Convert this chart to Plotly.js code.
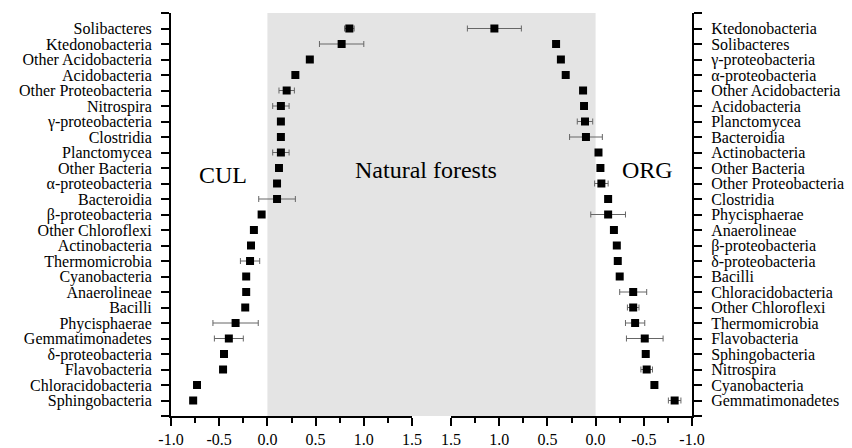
<!DOCTYPE html>
<html>
<head>
<meta charset="utf-8">
<script src="https://cdn.plot.ly/plotly-3.0.1.min.js"></script>
<style>html,body{margin:0;padding:0;background:#fff}#chart{width:852px;height:448px}</style>
</head>
<body>
<div id="chart"></div>
<script>
// CUL (left panel), top to bottom
const catsCUL = ["Solibacteres","Ktedonobacteria","Other Acidobacteria","Acidobacteria","Other Proteobacteria","Nitrospira","γ-proteobacteria","Clostridia","Planctomycea","Other Bacteria","α-proteobacteria","Bacteroidia","β-proteobacteria","Other Chloroflexi","Actinobacteria","Thermomicrobia","Cyanobacteria","Anaerolineae","Bacilli","Phycisphaerae","Gemmatimonadetes","δ-proteobacteria","Flavobacteria","Chloracidobacteria","Sphingobacteria"];
const valsCUL = [0.85,0.77,0.44,0.29,0.20,0.14,0.14,0.14,0.14,0.12,0.10,0.10,-0.06,-0.14,-0.17,-0.18,-0.22,-0.22,-0.23,-0.33,-0.40,-0.45,-0.46,-0.73,-0.77];
const errCUL  = [0.05,0.23,0.02,0.02,0.08,0.085,0.02,0.02,0.085,0.02,0.02,0.19,0.02,0.02,0.02,0.10,0.02,0.02,0.02,0.235,0.15,0.02,0.03,0.035,0.03];

// ORG (right panel), top to bottom
const catsORG = ["Ktedonobacteria","Solibacteres","γ-proteobacteria","α-proteobacteria","Other Acidobacteria","Acidobacteria","Planctomycea","Bacteroidia","Actinobacteria","Other Bacteria","Other Proteobacteria","Clostridia","Phycisphaerae","Anaerolineae","β-proteobacteria","δ-proteobacteria","Bacilli","Chloracidobacteria","Other Chloroflexi","Thermomicrobia","Flavobacteria","Sphingobacteria","Nitrospira","Cyanobacteria","Gemmatimonadetes"];
const valsORG = [1.05,0.41,0.36,0.31,0.13,0.12,0.11,0.10,-0.03,-0.05,-0.06,-0.13,-0.13,-0.19,-0.22,-0.23,-0.25,-0.39,-0.39,-0.41,-0.51,-0.52,-0.53,-0.61,-0.82];
const errORG  = [0.28,0.02,0.02,0.02,0.02,0.02,0.08,0.17,0.02,0.02,0.07,0.02,0.18,0.02,0.02,0.02,0.02,0.14,0.06,0.10,0.19,0.03,0.06,0.02,0.065];

const xTicks = [-1.0,-0.5,0.0,0.5,1.0,1.5];
const xTickText = ["-1.0","-0.5","0.0","0.5","1.0","1.5"];

const FONT = "Liberation Serif, Times New Roman, serif";
const idx = a => a.map((_, i) => i);
const yTickVals = [-1].concat(idx(catsCUL)).concat([catsCUL.length]);
const yTickTextL = [""].concat(catsCUL).concat([""]);
const yTickTextR = [""].concat(catsORG).concat([""]);

const dom1 = [171/852, 412/852];
const dom2 = [451/852, 692/852];
const ydom = [1 - 416/448, 1 - 13/448];
const xRange1 = [-1.0, 1.5];
const xRange2 = [1.5, -1.0];

const marker = {symbol: "square", size: 8, color: "#000"};
const errStyle = (arr) => ({type: "data", array: arr, visible: true, color: "#666", thickness: 1, width: 3});

const traces = [
  {x: valsCUL, y: idx(catsCUL), xaxis: "x", yaxis: "y", mode: "markers", type: "scatter", marker, error_x: errStyle(errCUL), hoverinfo: "x+text", text: catsCUL},
  {x: valsORG, y: idx(catsORG), xaxis: "x2", yaxis: "y2", mode: "markers", type: "scatter", marker, error_x: errStyle(errORG), hoverinfo: "x+text", text: catsORG}
];

// shading from x=0 on left axis to x=0 on right axis
const frac = (dom, rng, v) => dom[0] + (v - rng[0]) / (rng[1] - rng[0]) * (dom[1] - dom[0]);
const shadeX0 = frac(dom1, xRange1, 0);
const shadeX1 = frac(dom2, xRange2, 0);

const xAxisBase = {
  showgrid: false, zeroline: false, showline: true, linecolor: "#000", linewidth: 2,
  ticks: "outside", ticklen: 8, tickwidth: 2, tickcolor: "#000",
  tickvals: xTicks, ticktext: xTickText,
  minor: {dtick: 0.25, tick0: 0, ticks: "outside", ticklen: 5, tickwidth: 2, tickcolor: "#000", showgrid: false},
  tickfont: {family: FONT, size: 16, color: "#000"}, fixedrange: true
};
const yAxisBase = {
  showgrid: false, zeroline: false, showline: true, linecolor: "#000", linewidth: 2,
  ticks: "outside", ticklen: 8, tickwidth: 2, tickcolor: "#000",
  tickmode: "array", tickvals: yTickVals, range: [catsCUL.length, -1], domain: ydom,
  fixedrange: true, tickfont: {family: FONT, size: 16, color: "#000"}
};

const layout = {
  width: 852, height: 448,
  margin: {l: 0, r: 0, t: 0, b: 0},
  paper_bgcolor: "#fff", plot_bgcolor: "rgba(0,0,0,0)",
  showlegend: false,
  font: {family: FONT, color: "#000"},
  xaxis: Object.assign({}, xAxisBase, {domain: dom1, range: xRange1, anchor: "y"}),
  xaxis2: Object.assign({}, xAxisBase, {domain: dom2, range: xRange2, anchor: "y2"}),
  yaxis: Object.assign({}, yAxisBase, {ticktext: yTickTextL, anchor: "x", side: "left", ticklabelstandoff: 6}),
  yaxis2: Object.assign({}, yAxisBase, {ticktext: yTickTextR, anchor: "x2", side: "right", ticklabelstandoff: 6}),
  shapes: [{type: "rect", xref: "paper", yref: "paper", x0: shadeX0, x1: shadeX1, y0: ydom[0], y1: ydom[1], fillcolor: "#e4e4e4", line: {width: 0}, layer: "below"}],
  annotations: [
    {text: "CUL", xref: "paper", yref: "paper", x: 223/852, y: 1 - 175/448, xanchor: "center", yanchor: "middle", showarrow: false, font: {family: FONT, size: 24, color: "#000"}},
    {text: "Natural forests", xref: "paper", yref: "paper", x: 426/852, y: 1 - 170/448, xanchor: "center", yanchor: "middle", showarrow: false, font: {family: FONT, size: 24, color: "#000"}},
    {text: "ORG", xref: "paper", yref: "paper", x: 647/852, y: 1 - 170/448, xanchor: "center", yanchor: "middle", showarrow: false, font: {family: FONT, size: 24, color: "#000"}}
  ]
};

Plotly.newPlot("chart", traces, layout, {displayModeBar: false, staticPlot: true});
</script>
</body>
</html>
